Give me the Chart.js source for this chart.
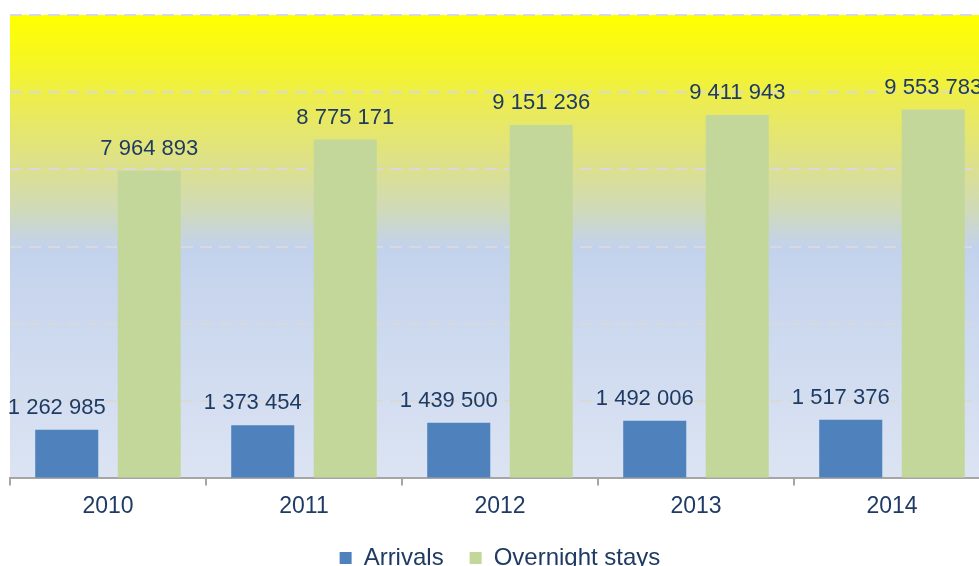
<!DOCTYPE html>
<html>
<head>
<meta charset="utf-8">
<script src="https://cdn.jsdelivr.net/npm/chart.js@4.4.1/dist/chart.umd.min.js"></script>
<style>
  html, body { margin: 0; padding: 0; background: #fff; overflow: hidden; }
  #wrap { width: 1000px; height: 580px; }
</style>
</head>
<body>
<div id="wrap"><canvas id="chart" width="1000" height="580"></canvas></div>
<script>
const years = ['2010', '2011', '2012', '2013', '2014'];
const arrivals = [1262985, 1373454, 1439500, 1492006, 1517376];
const overnightStays = [7964893, 8775171, 9151236, 9411943, 9553783];
const yMax = 12000000;
const yStep = 2000000;

const textColor = '#1F3B63';
const fontFamily = '"Liberation Sans", Arial, sans-serif';

// fondo degradado amarillo -> azul dentro del area del grafico
const bgPlugin = {
  id: 'bgGradient',
  beforeDraw(chart) {
    const { ctx, chartArea: a } = chart;
    const g = ctx.createLinearGradient(0, a.top, 0, a.bottom);
    g.addColorStop(0, '#FFFF00');
    g.addColorStop(0.1, '#F6F624');
    g.addColorStop(0.2, '#EBEB58');
    g.addColorStop(0.33, '#DCE08E');
    g.addColorStop(0.42, '#D0DAB8');
    g.addColorStop(0.5, '#C3D2EC');
    g.addColorStop(1, '#DCE4F3');
    ctx.save();
    ctx.fillStyle = g;
    ctx.fillRect(a.left, a.top, a.right - a.left, a.bottom - a.top);
    ctx.restore();
  }
};

// etiquetas de valores encima de las barras
const fmt = v => String(v).replace(/\B(?=(\d{3})+(?!\d))/g, ' ');
const labelPlugin = {
  id: 'valueLabels',
  afterDatasetsDraw(chart) {
    const { ctx } = chart;
    ctx.save();
    ctx.font = '22px ' + fontFamily;
    ctx.fillStyle = textColor;
    ctx.textAlign = 'center';
    ctx.textBaseline = 'middle';
    chart.data.datasets.forEach((ds, i) => {
      const shift = i === 0 ? -10 : 0;
      chart.getDatasetMeta(i).data.forEach((bar, j) => {
        ctx.fillText(fmt(ds.data[j]), bar.x + shift, bar.y - 22);
      });
    });
    ctx.restore();
  }
};

new Chart(document.getElementById('chart'), {
  type: 'bar',
  data: {
    labels: years,
    datasets: [
      {
        label: 'Arrivals',
        data: arrivals,
        backgroundColor: '#4F81BD',
        categoryPercentage: 0.842,
        barPercentage: 0.764,
      },
      {
        label: 'Overnight stays',
        data: overnightStays,
        backgroundColor: '#C4D79B',
        categoryPercentage: 0.842,
        barPercentage: 0.764,
      },
    ],
  },
  options: {
    responsive: false,
    animation: false,
    devicePixelRatio: 1,
    layout: { padding: { left: 10, right: 10, top: 15, bottom: 0 } },
    scales: {
      x: {
        grid: {
          offset: true,
          drawOnChartArea: false,
          color: '#A6A6A6',
          lineWidth: 2,
          tickLength: 7,
        },
        border: { color: '#A6A6A6', width: 2 },
        ticks: {
          color: textColor,
          font: { size: 23, family: fontFamily },
          padding: 7,
        },
        afterFit: s => { s.height -= 7; },
      },
      y: {
        min: 0,
        max: yMax,
        ticks: { display: false, stepSize: yStep },
        border: { display: false, dash: [12, 7] },
        grid: { color: '#D9D9D9', lineWidth: 2, drawTicks: false },
        afterFit: s => { s.width = 0; },
      },
    },
    plugins: {
      legend: {
        position: 'bottom',
        labels: {
          color: textColor,
          font: { size: 24, family: fontFamily },
          boxWidth: 12,
          boxHeight: 12,
          padding: 26,
        },
      },
      tooltip: { enabled: false },
    },
  },
  plugins: [bgPlugin, labelPlugin],
});
</script>
</body>
</html>
